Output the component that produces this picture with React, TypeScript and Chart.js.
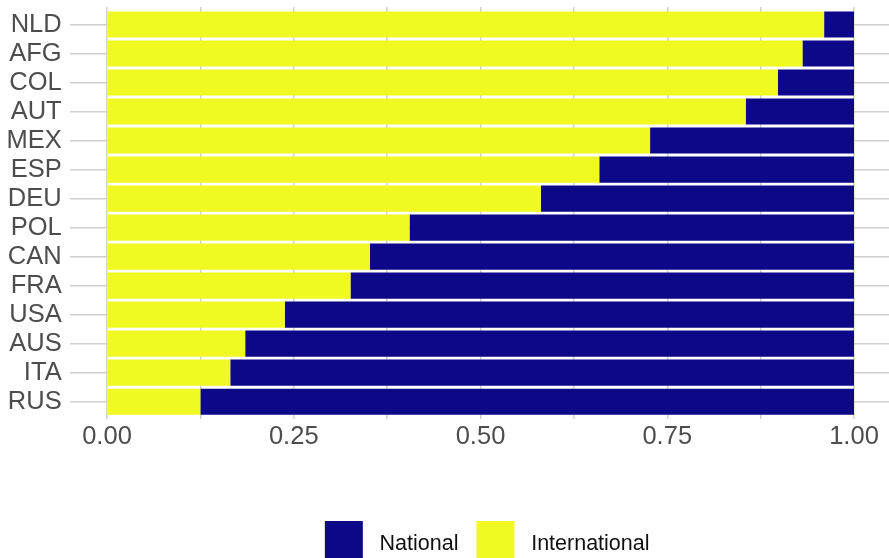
import React, { useEffect, useRef } from "react";
import { Chart, registerables } from "chart.js";

Chart.register(...registerables);

// ---- data ----
const countries = ["NLD", "AFG", "COL", "AUT", "MEX", "ESP", "DEU", "POL", "CAN", "FRA", "USA", "AUS", "ITA", "RUS"];
const international = [0.96, 0.931, 0.898, 0.855, 0.727, 0.659, 0.581, 0.405, 0.352, 0.326, 0.238, 0.185, 0.165, 0.125];
const national = [0.04, 0.069, 0.102, 0.145, 0.273, 0.341, 0.419, 0.595, 0.648, 0.674, 0.762, 0.815, 0.835, 0.875];
const xTickLabels = ["0.00", "0.25", "0.50", "0.75", "1.00"];
const seriesNames = ["International", "National"];

const YELLOW = "#F0F921";
const NAVY = "#0D0887";
const GRID = "#d0d0d0";
const FONT = "'Liberation Sans', Arial, sans-serif";

const legendShift = {
  id: "legendShift",
  afterLayout(chart: any) {
    const lg = chart.legend;
    if (lg) {
      lg.left += 41.5;
      lg.right += 41.5;
    }
  },
};

export default function App() {
  const ref = useRef<HTMLCanvasElement | null>(null);

  useEffect(() => {
    if (!ref.current) return;
    const chart = new Chart(ref.current, {
      type: "bar",
      data: {
        datasets: [
          {
            label: seriesNames[0],
            data: international.map((v, i) => ({ x: v, y: i })),
            backgroundColor: YELLOW,
            borderWidth: 0,
          },
          {
            label: seriesNames[1],
            data: national.map((v, i) => ({ x: v, y: i })),
            backgroundColor: NAVY,
            borderWidth: 0,
          },
        ],
      },
      options: {
        indexAxis: "y",
        responsive: false,
        animation: false,
        devicePixelRatio: 1,
        datasets: { bar: { barPercentage: 0.9, categoryPercentage: 1 } },
        layout: { padding: { top: 7.1, left: 0, right: 972 - 891.35, bottom: 0 } },
        scales: {
          x: {
            type: "linear",
            stacked: true,
            min: -0.05,
            max: 1.05,
            offset: false,
            border: { display: false },
            grid: { color: GRID, lineWidth: 1.5, drawTicks: false, offset: false },
            afterFit: (s: any) => {
              s.height = 83.9;
              s.paddingLeft = 0;
              s.paddingRight = 0;
            },
            ticks: {
              stepSize: 0.125,
              includeBounds: false,
              autoSkip: false,
              maxRotation: 0,
              padding: 3,
              color: "#4d4d4d",
              font: { family: FONT, size: 25.5 },
              callback: (v: any) => {
                const k = Math.round(Number(v) * 4);
                return Math.abs(Number(v) * 4 - k) < 1e-9 ? xTickLabels[k] : "";
              },
            },
          },
          y: {
            type: "linear",
            stacked: true,
            reverse: true,
            min: -0.6,
            max: 13.6,
            offset: false,
            border: { display: false },
            grid: { color: GRID, lineWidth: 1.5, drawTicks: false, offset: false },
            afterFit: (s: any) => {
              s.width = 69.65;
              s.paddingTop = 0;
              s.paddingBottom = 0;
            },
            ticks: {
              stepSize: 1,
              includeBounds: false,
              autoSkip: false,
              padding: 8,
              color: "#4d4d4d",
              font: { family: FONT, size: 25.5 },
              callback: (v: any) => countries[Math.round(Number(v))] ?? "",
            },
          },
        },
        plugins: {
          tooltip: { enabled: false },
          legend: {
            position: "bottom",
            labels: {
              boxWidth: 38,
              boxHeight: 46,
              padding: 18,
              color: "#111",
              font: { family: FONT, size: 21.5 },
              generateLabels: (c: any) => {
                const items = (Chart.defaults.plugins.legend.labels as any).generateLabels(c);
                return items.reverse().map((it: any) => ({ ...it, text: " " + it.text, lineWidth: 0 }));
              },
            },
          },
        },
      },
      plugins: [legendShift],
    });
    return () => chart.destroy();
  }, []);

  return (
    <div style={{ position: "fixed", left: 0, top: 0, width: 889, height: 558, overflow: "hidden", background: "#fff" }}>
      <canvas ref={ref} width={972} height={577} style={{ display: "block", width: 972, height: 577 }} />
    </div>
  );
}
